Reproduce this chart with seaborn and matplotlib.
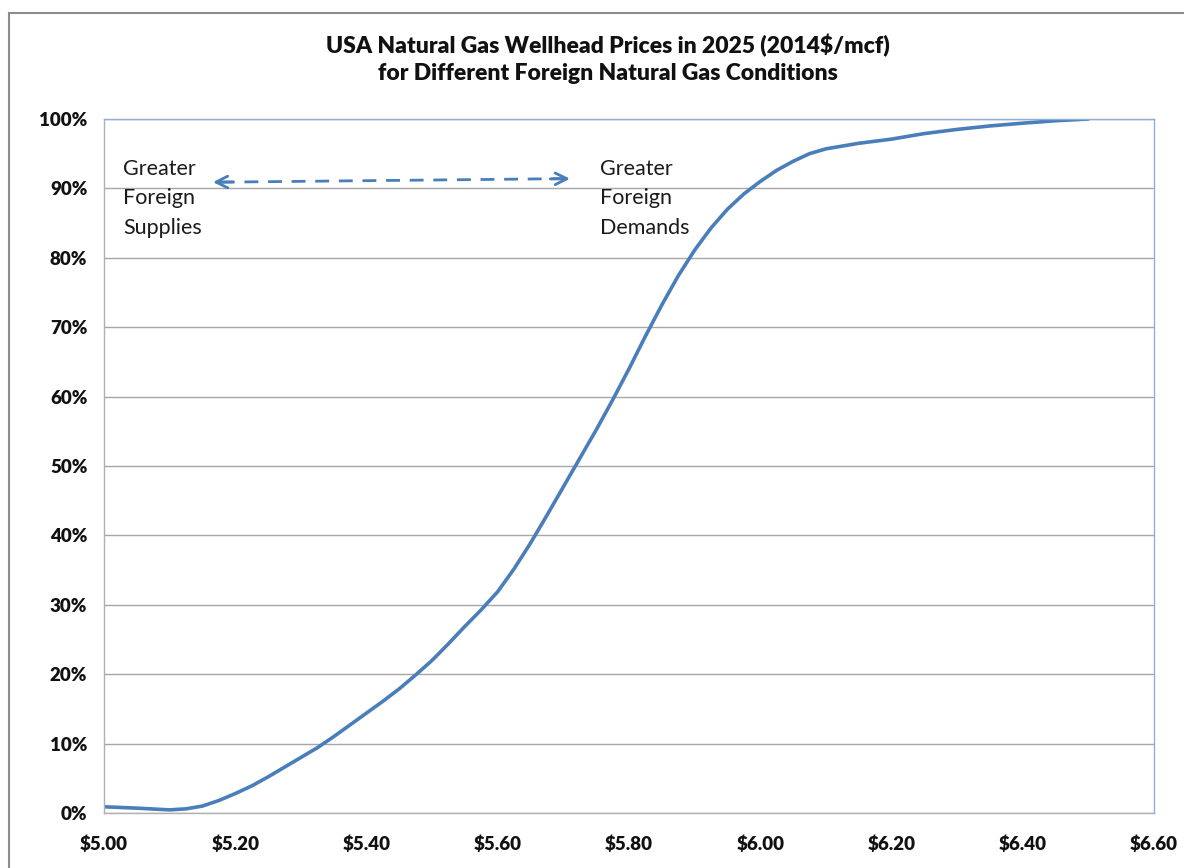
import matplotlib
matplotlib.use('Agg')
import matplotlib.pyplot as plt
import matplotlib.ticker as mticker
from matplotlib.patches import Rectangle
import seaborn as sns
import pandas as pd

# price ($/mcf, 2014$) vs cumulative share (%)
price = [5.000, 5.050, 5.100, 5.125, 5.150, 5.175, 5.200, 5.225, 5.250, 5.275,
         5.300, 5.325, 5.350, 5.375, 5.400, 5.425, 5.450, 5.475, 5.500, 5.525,
         5.550, 5.575, 5.600, 5.625, 5.650, 5.675, 5.700, 5.725, 5.750, 5.775,
         5.800, 5.825, 5.850, 5.875, 5.900, 5.925, 5.950, 5.975, 6.000, 6.025,
         6.050, 6.075, 6.100, 6.150, 6.200, 6.250, 6.300, 6.350, 6.400, 6.450,
         6.500]
share = [0.9, 0.7, 0.45, 0.6, 1.0, 1.8, 2.8, 3.9, 5.2, 6.6,
         8.0, 9.4, 11.0, 12.7, 14.4, 16.1, 17.9, 19.9, 22.0, 24.4,
         26.9, 29.3, 31.9, 35.2, 38.9, 42.9, 47.0, 51.1, 55.2, 59.5,
         64.0, 68.7, 73.2, 77.4, 81.1, 84.3, 87.0, 89.2, 91.0, 92.6,
         93.9, 95.0, 95.7, 96.5, 97.1, 97.9, 98.5, 99.0, 99.4, 99.75,
         100.0]

x_ticks = [5.00, 5.20, 5.40, 5.60, 5.80, 6.00, 6.20, 6.40, 6.60]
y_ticks = [0, 10, 20, 30, 40, 50, 60, 70, 80, 90, 100]

title = ("USA Natural Gas Wellhead Prices in 2025 (2014$/mcf)\n"
         "for Different Foreign Natural Gas Conditions")
left_note = "Greater\nForeign\nSupplies"
right_note = "Greater\nForeign\nDemands"

df = pd.DataFrame({"price": price, "share": share})

sns.set_theme(style="white")
plt.rcParams['font.family'] = ['Lato', 'DejaVu Sans']

blue = "#4A7EBB"
grid_grey = "#A6A6A6"

fig = plt.figure(figsize=(11.84, 8.68), dpi=100)
fig.patch.set_facecolor("white")
ax = fig.add_axes([104 / 1184, 1 - 813 / 868, 1050 / 1184, 694 / 868])

# outer chart frame (runs off the right and bottom edges)
fig.patches.append(Rectangle((9 / 1184, -0.1), 1.2, 1.1 - 13 / 868,
                             transform=fig.transFigure, fill=False,
                             edgecolor="#8C8C8C", linewidth=1.5, clip_on=False))

sns.lineplot(data=df, x="price", y="share", color=blue, linewidth=2.6, ax=ax)
for ln in ax.get_lines():
    ln.set_solid_joinstyle("round")
    ln.set_solid_capstyle("round")

ax.set_xlim(5.0, 6.6)
ax.set_ylim(0, 100)
ax.set_xticks(x_ticks)
ax.set_yticks(y_ticks)
ax.xaxis.set_major_formatter(mticker.FuncFormatter(lambda v, p: f"${v:.2f}"))
ax.yaxis.set_major_formatter(mticker.FuncFormatter(lambda v, p: f"{v:.0f}%"))
ax.set_xlabel("")
ax.set_ylabel("")

ax.yaxis.grid(True, color=grid_grey, linewidth=1)
ax.set_axisbelow(True)
for side in ("left", "bottom"):
    ax.spines[side].set_color("#B0B0B0")
    ax.spines[side].set_linewidth(1)
for side in ("top", "right"):
    ax.spines[side].set_color("#8EAFD8")
    ax.spines[side].set_linewidth(1)

ax.tick_params(axis="both", which="major", direction="out", length=6,
               width=1, color="#A0A0A0", labelsize=13.5, pad=6)
ax.tick_params(axis="x", pad=10)
for lab in ax.get_xticklabels() + ax.get_yticklabels():
    lab.set_fontweight("heavy")
    lab.set_color("#111111")

fig.text(608 / 1184, 1 - 59 / 868, title, ha="center", va="center",
         fontsize=16.5, fontweight="heavy", color="#111111", linespacing=1.35)

ax.text(5.029, 94.3, left_note, ha="left", va="top", fontsize=15.5,
        color="#1a1a1a", linespacing=1.62)
ax.text(5.756, 94.3, right_note, ha="left", va="top", fontsize=15.5,
        color="#1a1a1a", linespacing=1.62)

# dashed double arrow between the two notes
x0, y0, x1, y1 = 5.166, 90.9, 5.710, 91.4
ax.plot([x0 + 0.012, x1 - 0.012], [y0, y1], color=blue, linewidth=2,
        linestyle=(0, (5, 3.5)))
ax.annotate("", xy=(x0, y0), xytext=(x0 + 0.03, y0 + 0.03),
            arrowprops=dict(arrowstyle="->,head_length=0.7,head_width=0.35",
                            color=blue, linewidth=2, shrinkA=0, shrinkB=0))
ax.annotate("", xy=(x1, y1), xytext=(x1 - 0.03, y1 - 0.03),
            arrowprops=dict(arrowstyle="->,head_length=0.7,head_width=0.35",
                            color=blue, linewidth=2, shrinkA=0, shrinkB=0))

fig.savefig("out.png", dpi=100)
